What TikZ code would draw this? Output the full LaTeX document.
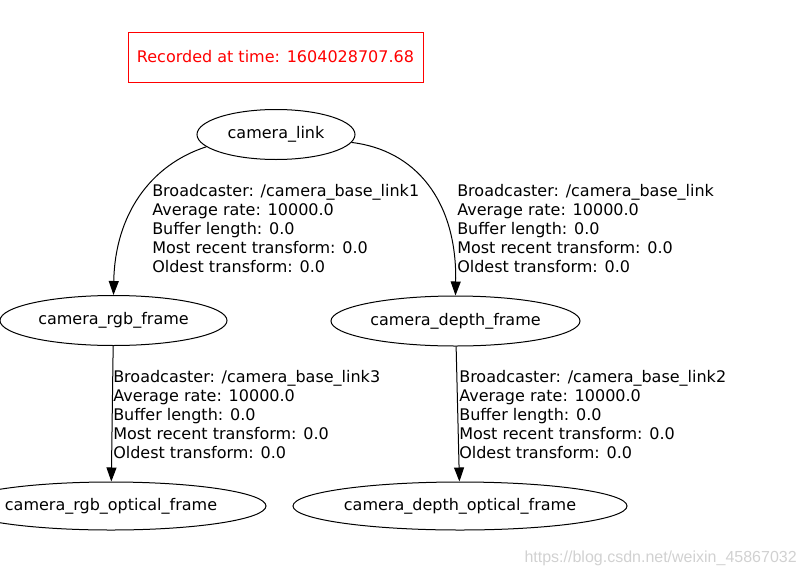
\documentclass[tikz,border=0pt]{standalone}
\usepackage{fontspec}
\setmainfont{DejaVu Sans}
\newfontfamily\wmfont{Liberation Sans}
\usetikzlibrary{arrows.meta,shapes.geometric}
\begin{document}
\begin{tikzpicture}[x=0.75pt,y=-0.75pt,
  frame/.style={draw,ellipse,line width=0.75pt,inner sep=0pt,minimum height=37.5pt,font=\fontsize{12pt}{14.25pt}\selectfont},
  tfedge/.style={line width=0.75pt,-{Triangle[length=10.5pt,width=7.5pt]}},
  tflabel/.style={anchor=base west,inner sep=0pt,align=left,font=\fontsize{12pt}{14.25pt}\selectfont}]
\useasboundingbox (0,0) rectangle (806,578);
\clip (0,0) rectangle (806,578);
\node[draw=red,text=red,line width=0.75pt,minimum width=221.25pt,minimum height=37.5pt,inner sep=0pt,font=\fontsize{12pt}{14.25pt}\selectfont] (rec) at (275.5,57) {Recorded at time: 1604028707.68};
\node[frame,minimum width=118.5pt] (cl) at (276,134.5) {camera\_link};
\node[frame,minimum width=170.25pt] (rgb) at (113.5,320.5) {camera\_rgb\_frame};
\node[frame,minimum width=186.75pt] (depth) at (455.5,321) {camera\_depth\_frame};
\node[frame,minimum width=232.5pt,minimum height=36pt] (rgbo) at (111,506) {camera\_rgb\_optical\_frame};
\node[frame,minimum width=250.5pt,minimum height=36pt] (deptho) at (460,506) {camera\_depth\_optical\_frame};
\draw[tfedge] (cl.190) .. controls (150,165) and (115,215) .. (rgb.north);
\draw[tfedge] (cl.-6) .. controls (415,150) and (457,200) .. (depth.north);
\draw[tfedge] (rgb) -- (rgbo);
\draw[tfedge] (depth) -- (deptho);
\node[tflabel] (l1) at (152,272) {Broadcaster: /camera\_base\_link1\\Average rate: 10000.0\\Buffer length: 0.0\\Most recent transform: 0.0\\Oldest transform: 0.0};
\node[tflabel] (l2) at (457,272) {Broadcaster: /camera\_base\_link\\Average rate: 10000.0\\Buffer length: 0.0\\Most recent transform: 0.0\\Oldest transform: 0.0};
\node[tflabel] (l3) at (113,458) {Broadcaster: /camera\_base\_link3\\Average rate: 10000.0\\Buffer length: 0.0\\Most recent transform: 0.0\\Oldest transform: 0.0};
\node[tflabel] (l4) at (459,458) {Broadcaster: /camera\_base\_link2\\Average rate: 10000.0\\Buffer length: 0.0\\Most recent transform: 0.0\\Oldest transform: 0.0};
\node[anchor=base east,inner sep=0pt,text=black!18,font=\wmfont\fontsize{12pt}{14pt}\selectfont] (wm) at (797,562) {https://blog.csdn.net/weixin\_45867032};
\end{tikzpicture}
\end{document}
